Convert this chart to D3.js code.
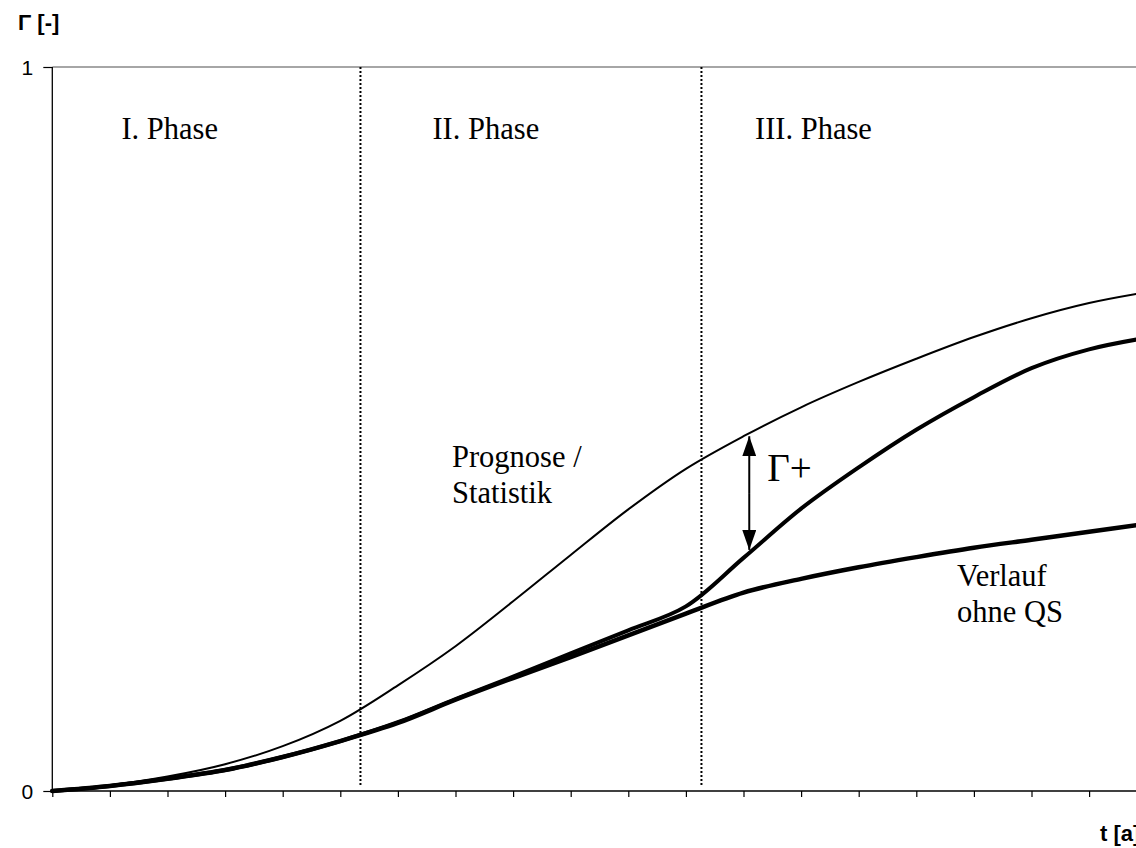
<!DOCTYPE html>
<html>
<head>
<meta charset="utf-8">
<script src="https://cdn.jsdelivr.net/npm/d3@7"></script>
<style>
  body { margin: 0; background: #fff; }
  svg { display: block; }
</style>
</head>
<body>
<div class="chart"></div>
<script>

// time steps (x ticks every unit)
var tSteps = d3.range(0, 21);
var tValues = [0, 1, 2, 3, 4, 5, 6, 7, 8, 9, 10, 11, 12, 13, 14, 15, 16, 17, 18, 19];

// Prognose / Statistik (thin)
var prognose = [0, 0.008, 0.02, 0.037, 0.062, 0.097, 0.146, 0.2, 0.262, 0.326, 0.389, 0.445,
    0.49, 0.53, 0.565, 0.597, 0.627, 0.653, 0.674, 0.689];
// Verlauf ohne QS (thick, lower)
var ohneQS = [0, 0.007, 0.017, 0.029, 0.047, 0.069, 0.094, 0.126, 0.156, 0.185, 0.215, 0.245,
    0.274, 0.293, 0.309, 0.323, 0.336, 0.347, 0.358, 0.369];
// Verlauf mit QS (thick, middle)
var mitQS = [0, 0.007, 0.017, 0.029, 0.047, 0.069, 0.095, 0.127, 0.158, 0.19, 0.222, 0.255,
    0.322, 0.39, 0.447, 0.499, 0.544, 0.584, 0.61, 0.626];

// phase boundaries and labels
var phaseBounds = [5.35, 11.27];
var phaseLabels = ["I. Phase", "II. Phase", "III. Phase"];
var phaseLabelT = [1.2, 6.6, 12.2];

// Γ+ arrow between the curves
var arrowT = 12.1;
var arrowTop = 0.49;
var arrowBottom = 0.333;

var yTicks = [0, 1];

var width = 1136;
var height = 848;
var margin = { left: 52.3, top: 67, bottom: 57 };
var unit = 57.6;

var svg = d3.select('.chart')
    .append('svg')
    .attr('width', width)
    .attr('height', height);

var x = d3.scaleLinear()
    .domain([0, 20])
    .range([margin.left, margin.left + 20 * unit]);

var y = d3.scaleLinear()
    .domain([0, 1])
    .range([height - margin.bottom, margin.top]);

var defs = svg.append('defs');
defs.append('marker')
    .attr('id', 'head')
    .attr('viewBox', '0 0 20 14')
    .attr('refX', 20)
    .attr('refY', 7)
    .attr('markerWidth', 20)
    .attr('markerHeight', 14)
    .attr('markerUnits', 'userSpaceOnUse')
    .attr('orient', 'auto')
    .append('path')
    .attr('d', 'M0,0 L20,7 L0,14 Z')
    .attr('fill', '#000');

// top frame line
svg.append('line')
    .attr('x1', x(0)).attr('x2', x(20))
    .attr('y1', y(1)).attr('y2', y(1))
    .attr('stroke', '#888')
    .attr('stroke-width', 1.3);

// phase separators
svg.selectAll('.phase-line')
    .data(phaseBounds)
    .enter()
    .append('line')
    .attr('class', 'phase-line')
    .attr('x1', d => x(d)).attr('x2', d => x(d))
    .attr('y1', y(1)).attr('y2', y(0) - 4)
    .attr('stroke', '#000')
    .attr('stroke-width', 2)
    .attr('stroke-dasharray', '2,2');

// x axis
var axisX = d3.axisBottom(x)
    .tickValues(tSteps)
    .tickSize(6)
    .tickFormat('');
var gx = svg.append('g')
    .attr('transform', 'translate(0,' + y(0) + ')')
    .call(axisX);
gx.select('.domain').attr('stroke-width', 1.3).attr('d', 'M' + x(0) + ',0H' + x(20));
gx.selectAll('.tick line').attr('stroke-width', 1.2);

// y axis
var axisY = d3.axisLeft(y)
    .tickValues(yTicks)
    .tickSize(9)
    .tickPadding(10)
    .tickFormat(d3.format('d'));
var gy = svg.append('g')
    .attr('transform', 'translate(' + x(0) + ',0)')
    .call(axisY);
gy.select('.domain').attr('stroke-width', 1.3).attr('d', 'M0,' + y(0) + 'V' + y(1));
gy.selectAll('.tick line').attr('stroke-width', 1.2);
gy.selectAll('.tick text')
    .style('font-family', '"Liberation Sans", Arial, sans-serif')
    .style('font-size', '21px')
    .attr('dy', '0.35em');

// curves
var line = d3.line()
    .x((d, i) => x(tValues[i]))
    .y(d => y(d))
    .curve(d3.curveCatmullRom.alpha(0.5));

function curve(data, w) {
    svg.append('path')
        .datum(data)
        .attr('d', line)
        .attr('fill', 'none')
        .attr('stroke', '#000')
        .attr('stroke-linecap', 'round')
        .attr('stroke-width', w);
}

curve(ohneQS, 4.5);
curve(mitQS, 4);
curve(prognose, 2);

// arrow
svg.append('line')
    .attr('x1', x(arrowT)).attr('x2', x(arrowT))
    .attr('y1', y((arrowTop + arrowBottom) / 2)).attr('y2', y(arrowTop))
    .attr('stroke', '#000')
    .attr('stroke-width', 2)
    .attr('marker-end', 'url(#head)');
svg.append('line')
    .attr('x1', x(arrowT)).attr('x2', x(arrowT))
    .attr('y1', y((arrowTop + arrowBottom) / 2)).attr('y2', y(arrowBottom))
    .attr('stroke', '#000')
    .attr('stroke-width', 2)
    .attr('marker-end', 'url(#head)');

var serif = '"Liberation Serif", "Times New Roman", serif';

svg.append('text')
    .attr('x', x(arrowT) + 18)
    .attr('y', 481)
    .style('font-family', serif)
    .style('font-size', '39px')
    .text('Γ+');

// phase labels
svg.selectAll('.phase-label')
    .data(phaseLabels)
    .enter()
    .append('text')
    .attr('class', 'phase-label')
    .attr('x', (d, i) => x(phaseLabelT[i]))
    .attr('y', 139)
    .style('font-family', serif)
    .style('font-size', '30.5px')
    .text(d => d);

function multiline(xPos, yPos, lines) {
    var t = svg.append('text')
        .style('font-family', serif)
        .style('font-size', '30.5px');
    lines.forEach((s, i) => {
        t.append('tspan')
            .attr('x', xPos)
            .attr('y', yPos + i * 36)
            .text(s);
    });
}

multiline(452, 467, ['Prognose /', 'Statistik']);
multiline(957, 586, ['Verlauf', 'ohne QS']);

// axis titles
svg.append('text')
    .attr('x', 18)
    .attr('y', 30)
    .style('font-family', '"Liberation Sans", Arial, sans-serif')
    .style('font-size', '22px')
    .style('font-weight', 'bold')
    .text('Γ [-]');

svg.append('text')
    .attr('x', 1100)
    .attr('y', 841)
    .style('font-family', '"Liberation Sans", Arial, sans-serif')
    .style('font-size', '22px')
    .style('font-weight', 'bold')
    .text('t [a]');

</script>
</body>
</html>
